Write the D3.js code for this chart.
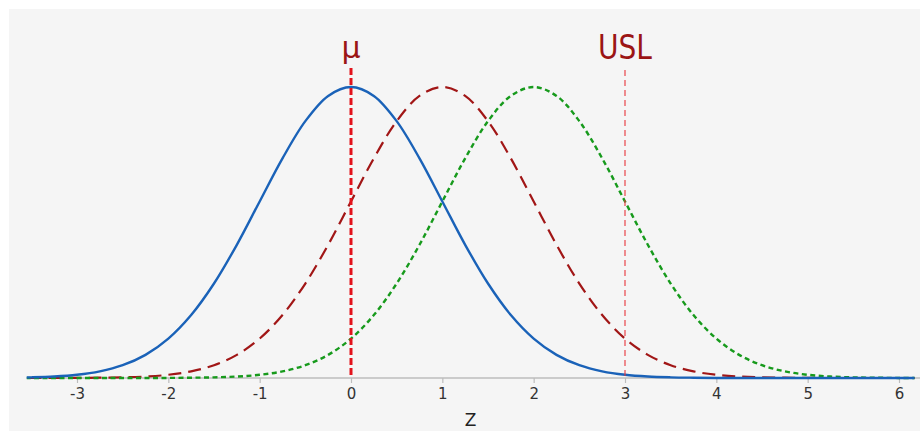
<!DOCTYPE html>
<html>
<head>
<meta charset="utf-8">
<script src="https://cdn.jsdelivr.net/npm/d3@7"></script>
<style>
  body { margin: 0; background: #ffffff; }
  svg { display: block; }
</style>
</head>
<body>
<div id="chart"></div>
<script>
// z values shared by every curve
const zValues = [-3.75,-3.5,-3.25,-3,-2.75,-2.5,-2.25,-2,-1.75,-1.5,-1.25,-1,-0.75,-0.5,-0.25,0,
  0.25,0.5,0.75,1,1.25,1.5,1.75,2,2.25,2.5,2.75,3,3.25,3.5,3.75,4,4.25,4.5,4.75,5,5.25,5.5,5.75,6,6.25];

// density, one array per curve
const blueCurve = [0.0004,0.0009,0.0020,0.0044,0.0091,0.0175,0.0317,0.0540,0.0863,0.1295,0.1826,0.2420,0.3011,0.3521,0.3867,0.3989,
  0.3867,0.3521,0.3011,0.2420,0.1826,0.1295,0.0863,0.0540,0.0317,0.0175,0.0091,0.0044,0.0020,0.0009,0.0004,0.0001,0,0,0,0,0,0,0,0,0];
const redCurve = [0,0,0,0.0001,0.0004,0.0009,0.0020,0.0044,0.0091,0.0175,0.0317,0.0540,0.0863,0.1295,0.1826,0.2420,
  0.3011,0.3521,0.3867,0.3989,0.3867,0.3521,0.3011,0.2420,0.1826,0.1295,0.0863,0.0540,0.0317,0.0175,0.0091,0.0044,0.0020,0.0009,0.0004,0.0001,0,0,0,0,0];
const greenCurve = [0,0,0,0,0,0,0,0.0001,0.0004,0.0009,0.0020,0.0044,0.0091,0.0175,0.0317,0.0540,
  0.0863,0.1295,0.1826,0.2420,0.3011,0.3521,0.3867,0.3989,0.3867,0.3521,0.3011,0.2420,0.1826,0.1295,0.0863,0.0540,0.0317,0.0175,0.0091,0.0044,0.0020,0.0009,0.0004,0.0001,0];

const tickValues = [-3,-2,-1,0,1,2,3,4,5,6];
const refLines = [
  {label: "\u03bc", value: 0},
  {label: "USL", value: 3}
];

const W = 920, H = 431;

const svg = d3.select("#chart").append("svg")
  .attr("width", W).attr("height", H);

// light grey panel
svg.append("rect")
  .attr("x", 9).attr("y", 9)
  .attr("width", W - 9).attr("height", H - 9)
  .attr("fill", "#f5f5f5");

const x = d3.scaleLinear().domain([0, 3]).range([351, 625]);
const y = d3.scaleLinear().domain([0, 0.3989]).range([378, 87]);

const xMin = -3.55, xMax = 6.17;

svg.append("clipPath").attr("id", "plotclip")
  .append("rect")
    .attr("x", x(xMin)).attr("y", 0)
    .attr("width", x(xMax) - x(xMin)).attr("height", 380);

// axis
const axis = d3.axisBottom(x).tickValues(tickValues).tickSize(5).tickPadding(5)
  .tickFormat(d => String(d));
const gx = svg.append("g")
  .attr("transform", "translate(0,378)")
  .call(axis);
gx.select(".domain").remove();
gx.append("line")
  .attr("x1", x(xMin)).attr("x2", W)
  .attr("stroke", "#bdbdbd").attr("stroke-width", 1.5);
gx.selectAll(".tick line").attr("stroke", "#bdbdbd").attr("stroke-width", 1.2);
gx.selectAll(".tick text")
  .attr("fill", "#333")
  .style("font-family", "DejaVu Sans, Verdana, sans-serif")
  .style("font-size", "15px");

svg.append("text")
  .attr("x", x((xMin + xMax) / 2))
  .attr("y", 426)
  .attr("text-anchor", "middle")
  .attr("fill", "#222")
  .style("font-family", "DejaVu Sans, Verdana, sans-serif")
  .style("font-size", "17px")
  .text("Z");

// curves
const curves = [
  {values: redCurve, color: "#a11616", dash: "13,7", width: 2.2},
  {values: greenCurve, color: "#179a1c", dash: "5,3.5", width: 2.4},
  {values: blueCurve, color: "#1a62b8", dash: null, width: 2.4}
];

const line = d3.line()
  .x((d, i) => x(zValues[i]))
  .y(d => y(d))
  .curve(d3.curveCatmullRom);

const plot = svg.append("g").attr("clip-path", "url(#plotclip)");
plot.selectAll("path.curve")
  .data(curves)
  .join("path")
    .attr("class", "curve")
    .attr("d", d => line(d.values))
    .attr("fill", "none")
    .attr("stroke", d => d.color)
    .attr("stroke-width", d => d.width)
    .attr("stroke-dasharray", d => d.dash);

// mean and USL markers
svg.append("line")
  .attr("x1", x(refLines[0].value)).attr("x2", x(refLines[0].value))
  .attr("y1", 68).attr("y2", 378)
  .attr("stroke", "#e3141c").attr("stroke-width", 3)
  .attr("stroke-dasharray", "7,3");

svg.append("line")
  .attr("x1", x(refLines[1].value)).attr("x2", x(refLines[1].value))
  .attr("y1", 70).attr("y2", 378)
  .attr("stroke", "#e8343a").attr("stroke-width", 1.1)
  .attr("stroke-dasharray", "6,4");

svg.append("text")
  .attr("x", x(refLines[0].value))
  .attr("y", 58)
  .attr("text-anchor", "middle")
  .attr("fill", "#9b1515")
  .style("font-family", "DejaVu Sans, Verdana, sans-serif")
  .style("font-size", "30px")
  .text(refLines[0].label);

svg.append("text")
  .attr("x", x(refLines[1].value) - 27)
  .attr("y", 59)
  .attr("textLength", 54)
  .attr("lengthAdjust", "spacingAndGlyphs")
  .attr("fill", "#9b1515")
  .style("font-family", "DejaVu Sans, Verdana, sans-serif")
  .style("font-size", "34px")
  .text(refLines[1].label);
</script>
</body>
</html>
